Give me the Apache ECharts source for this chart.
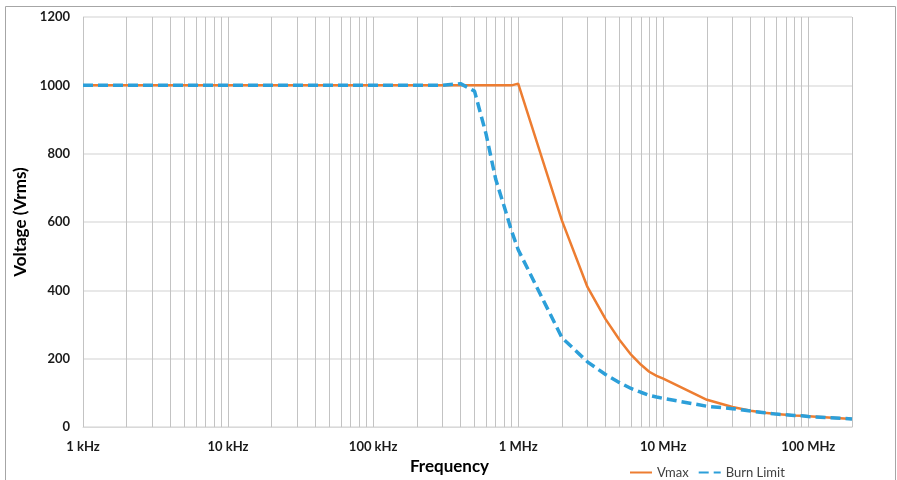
<!DOCTYPE html>
<html>
<head>
<meta charset="utf-8">
<script src="https://cdn.jsdelivr.net/npm/echarts@6/dist/echarts.min.js"></script>
<style>
  html, body { margin: 0; padding: 0; background: #fff; }
  #chart { width: 897px; height: 480px; }
</style>
</head>
<body>
<div id="chart"></div>
<script>
// frequency points (Hz)
const freqs = [1e3, 2e3, 5e3, 1e4, 2e4, 5e4, 1e5, 2e5, 3e5, 4e5, 5e5, 6e5, 7e5, 8e5, 9e5,
  1e6, 2e6, 3e6, 4e6, 5e6, 6e6, 7e6, 8e6, 9e6, 1e7, 2e7, 3e7, 4e7, 5e7, 6e7, 7e7, 8e7, 9e7, 1e8, 2e8]
// Vmax (Vrms)
const vmax = [1000, 1000, 1000, 1000, 1000, 1000, 1000, 1000, 1000, 1000, 1000, 1000, 1000, 1000, 1000,
  1005, 605, 410, 316, 255, 212, 183, 162, 150, 142, 80, 59, 48, 42, 38, 36, 34, 33, 32, 24]
// Burn Limit (Vrms)
const burnLimit = [1000, 1000, 1000, 1000, 1000, 1000, 1000, 1000, 1000, 1005, 983, 858, 725, 646, 574,
  519, 262, 191, 154, 130, 113, 102, 93, 88, 84, 61, 54, 47, 42, 38, 36, 34, 33, 31, 24]
// decade labels, keyed by log10(freq)
const xTickLabels = { 3: '1 kHz', 4: '10 kHz', 5: '100 kHz', 6: '1 MHz', 7: '10 MHz', 8: '100 MHz' }
const yTicks = [0, 200, 400, 600, 800, 1000, 1200]

// minor vertical grid lines 2..9 x each decade
const minorGrid = []
for (let d = 1e3; d <= 1e7; d *= 10) {
  for (let m = 2; m <= 9; m++) minorGrid.push(m * d)
}

const FONT = 'Lato, "Open Sans", sans-serif'
const chart = echarts.init(document.getElementById('chart'))

chart.setOption({
  animation: false,
  color: ['#ED7D31', '#2C9FD9'],
  grid: { left: 83, right: 45, top: 17, bottom: 49 },
  graphic: [{
    type: 'rect',
    shape: { x: 5.5, y: 6.5, width: 890, height: 500 },
    style: { fill: 'none', stroke: '#a6a6a6', lineWidth: 1 },
    silent: true
  }],
  legend: {
    left: 624,
    top: 461,
    itemWidth: 22,
    itemHeight: 14,
    itemGap: 9,
    itemStyle: { opacity: 0 },
    textStyle: { fontFamily: FONT, fontSize: 13, color: '#404040' },
    data: ['Vmax', 'Burn Limit']
  },
  xAxis: {
    type: 'log',
    logBase: 10,
    min: 1000,
    max: 2e8,
    name: 'Frequency',
    nameLocation: 'middle',
    nameGap: 30,
    nameTextStyle: { fontFamily: FONT, fontSize: 17, fontWeight: 'bold', color: '#000', padding: [0, 36, 0, 0] },
    axisLine: { show: true, lineStyle: { color: '#d9d9d9' } },
    axisTick: { show: false },
    axisLabel: {
      margin: 13,
      showMaxLabel: false,
      fontFamily: FONT,
      fontSize: 13,
      fontWeight: 'bold',
      color: '#1a1a1a',
      formatter: function (v) {
        const p = Math.round(Math.log10(v))
        return Math.abs(Math.log10(v) - p) < 1e-6 && xTickLabels[p] ? xTickLabels[p] : ''
      }
    },
    splitLine: { show: true, lineStyle: { color: '#c3c3c3' } }
  },
  yAxis: {
    type: 'value',
    min: yTicks[0],
    max: yTicks[yTicks.length - 1],
    interval: 200,
    name: 'Voltage (Vrms)',
    nameLocation: 'middle',
    nameGap: 49,
    nameTextStyle: { fontFamily: FONT, fontSize: 17, fontWeight: 'bold', color: '#000' },
    axisLine: { show: false },
    axisTick: { show: false },
    axisLabel: {
      margin: 13,
      fontFamily: FONT,
      fontSize: 13,
      fontWeight: 'bold',
      color: '#1a1a1a',
      formatter: v => String(v)
    },
    splitLine: { lineStyle: { color: '#e0e0e0', width: 1.5 } }
  },
  series: [
    {
      name: 'Vmax',
      type: 'line',
      symbol: 'none',
      z: 3,
      data: freqs.map((f, i) => [f, vmax[i]]),
      lineStyle: { color: '#ED7D31', width: 2.5 },
      markLine: {
        silent: true,
        symbol: 'none',
        z: 1,
        label: { show: false },
        lineStyle: { color: '#c3c3c3', type: 'solid', width: 1 },
        emphasis: { disabled: true },
        data: minorGrid.map(f => ({ xAxis: f }))
      }
    },
    {
      name: 'Burn Limit',
      type: 'line',
      symbol: 'none',
      z: 4,
      data: freqs.map((f, i) => [f, burnLimit[i]]),
      lineStyle: { color: '#2C9FD9', width: 3.5, type: [10, 5] }
    }
  ]
})
</script>
</body>
</html>
